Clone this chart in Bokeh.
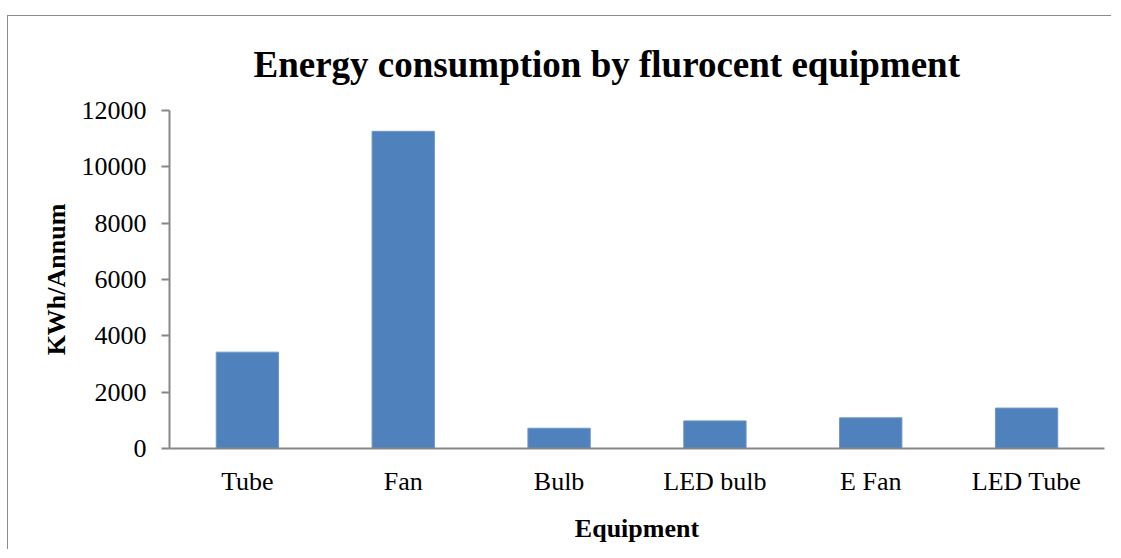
from bokeh.plotting import figure
from bokeh.models import FactorRange, Range1d, FixedTicker, Title
from bokeh.embed import file_html
from bokeh.resources import INLINE

categories = ["Tube", "Fan", "Bulb", "LED bulb", "E Fan", "LED Tube"]
values = [3420, 11260, 720, 980, 1090, 1435]
y_ticks = [0, 2000, 4000, 6000, 8000, 10000, 12000]

SERIF = "Liberation Serif"
AXIS_COLOR = "#878787"

p = figure(
    x_range=FactorRange(*categories, range_padding=0),
    y_range=Range1d(0, 12000),
    width=1104, height=534,
    output_backend="svg", toolbar_location=None,
    min_border_left=161, min_border_right=8,
    min_border_top=94, min_border_bottom=102,
)
p.styles = {"border-left": "1px solid #8c8c8c", "border-top": "1px solid #8c8c8c",
            "margin-top": "15px", "margin-left": "7px"}

p.vbar(x=categories, top=values, width=0.4, fill_color="#4F81BD", line_color="#6f97c9", line_width=1)

t = Title(text="Energy consumption by flurocent equipment", align="left", offset=84,
          text_font=SERIF, text_font_size="37px", text_font_style="bold", text_color="black",
          standoff=51)
p.add_layout(t, "above")

p.outline_line_color = None
p.xgrid.grid_line_color = None
p.ygrid.grid_line_color = None
p.background_fill_color = "white"
p.border_fill_color = "white"

p.yaxis.ticker = FixedTicker(ticks=y_ticks)
p.yaxis.axis_label = "KWh/Annum"
p.xaxis.axis_label = "Equipment"

for ax in (p.xaxis[0], p.yaxis[0]):
    ax.axis_line_color = AXIS_COLOR
    ax.axis_line_width = 2
    ax.major_label_text_font = SERIF
    ax.major_label_text_font_size = "26px"
    ax.major_label_text_color = "black"
    ax.axis_label_text_font = SERIF
    ax.axis_label_text_font_size = "26px"
    ax.axis_label_text_font_style = "bold"
    ax.axis_label_text_color = "black"
    ax.minor_tick_line_color = None

p.yaxis.major_tick_line_color = AXIS_COLOR
p.yaxis.major_tick_line_width = 2
p.yaxis.major_tick_out = 8
p.yaxis.major_tick_in = 0
p.yaxis.major_label_standoff = 15
p.yaxis.axis_label_standoff = 8

p.xaxis.major_tick_line_color = None
p.xaxis.major_tick_out = 0
p.xaxis.major_tick_in = 0
p.xaxis.major_label_standoff = 18
p.xaxis.axis_label_standoff = 15

open("out.html", "w").write(file_html(p, INLINE))
